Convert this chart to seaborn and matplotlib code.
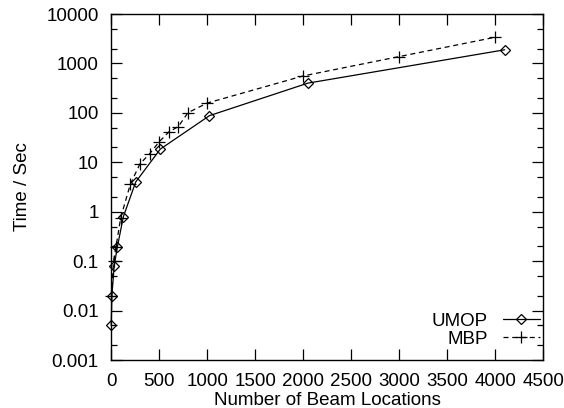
import numpy as np
import pandas as pd
import matplotlib
matplotlib.use('Agg')
import matplotlib.pyplot as plt
import seaborn as sns
from matplotlib.ticker import LogLocator, NullFormatter

# данные
umop_x = [1, 8, 32, 64, 128, 256, 512, 1024, 2048, 4096]
umop_y = [0.005, 0.02, 0.08, 0.19, 0.8, 4.0, 18.5, 88, 400, 1890]

mbp_x = [4, 25, 50, 100, 200, 300, 400, 500, 600, 700, 800, 1000, 2000, 3000, 4000]
mbp_y = [0.02, 0.1, 0.19, 0.76, 3.6, 9.3, 14.8, 26, 41, 53, 101, 158, 560, 1380, 3400]

x_ticks = [0, 500, 1000, 1500, 2000, 2500, 3000, 3500, 4000, 4500]
y_ticks = [0.001, 0.01, 0.1, 1, 10, 100, 1000, 10000]
y_labels = ['0.001', '0.01', '0.1', '1', '10', '100', '1000', '10000']

sns.set_style('ticks')
plt.rcParams['font.family'] = ['Liberation Sans', 'DejaVu Sans']
plt.rcParams['font.size'] = 13.5
plt.rcParams['text.color'] = 'black'
plt.rcParams['axes.labelcolor'] = 'black'

fig = plt.figure(figsize=(5.64, 4.08), dpi=100)
ax = fig.add_axes([0.197, 0.1176, 0.7666, 0.848])

sns.lineplot(x=umop_x, y=umop_y, ax=ax, color='black', linewidth=0.9,
             marker='D', markersize=5.5, markerfacecolor='none',
             markeredgecolor='black', markeredgewidth=0.9, label='UMOP',
             clip_on=False)
sns.lineplot(x=mbp_x, y=mbp_y, ax=ax, color='black', linewidth=0.9,
             linestyle=(0, (4, 3)), marker='+', markersize=8,
             markeredgecolor='black', markeredgewidth=0.9, label='MBP',
             clip_on=False)

ax.set_yscale('log')
ax.set_xlim(0, 4500)
ax.set_ylim(0.001, 10000)
ax.set_xticks(x_ticks)
ax.set_xticklabels([str(t) for t in x_ticks])
ax.set_yticks(y_ticks)
ax.set_yticklabels(y_labels)
ax.yaxis.set_minor_locator(LogLocator(base=10, subs=(2.0, 5.0), numticks=20))
ax.yaxis.set_minor_formatter(NullFormatter())

ax.tick_params(axis='both', which='major', direction='in', length=8, width=0.9,
               top=True, right=True, labelsize=13.5, pad=9, colors='black')
ax.tick_params(axis='y', which='minor', direction='in', length=4, width=0.9,
               left=True, right=True, colors='black')
for s in ax.spines.values():
    s.set_linewidth(1.0)
    s.set_color('black')

ax.set_xlabel('Number of Beam Locations', fontsize=13.5, labelpad=2)
ax.set_ylabel('Time / Sec', fontsize=13.5, labelpad=11)

leg = ax.legend(loc='lower right', bbox_to_anchor=(0.992, 0.035), frameon=False,
                markerfirst=False, handlelength=2.0, handletextpad=0.8,
                labelspacing=0.05, fontsize=13.5, borderaxespad=0, borderpad=0)
for t in leg.get_texts():
    t.set_color('black')

fig.savefig('out.png', dpi=100)
